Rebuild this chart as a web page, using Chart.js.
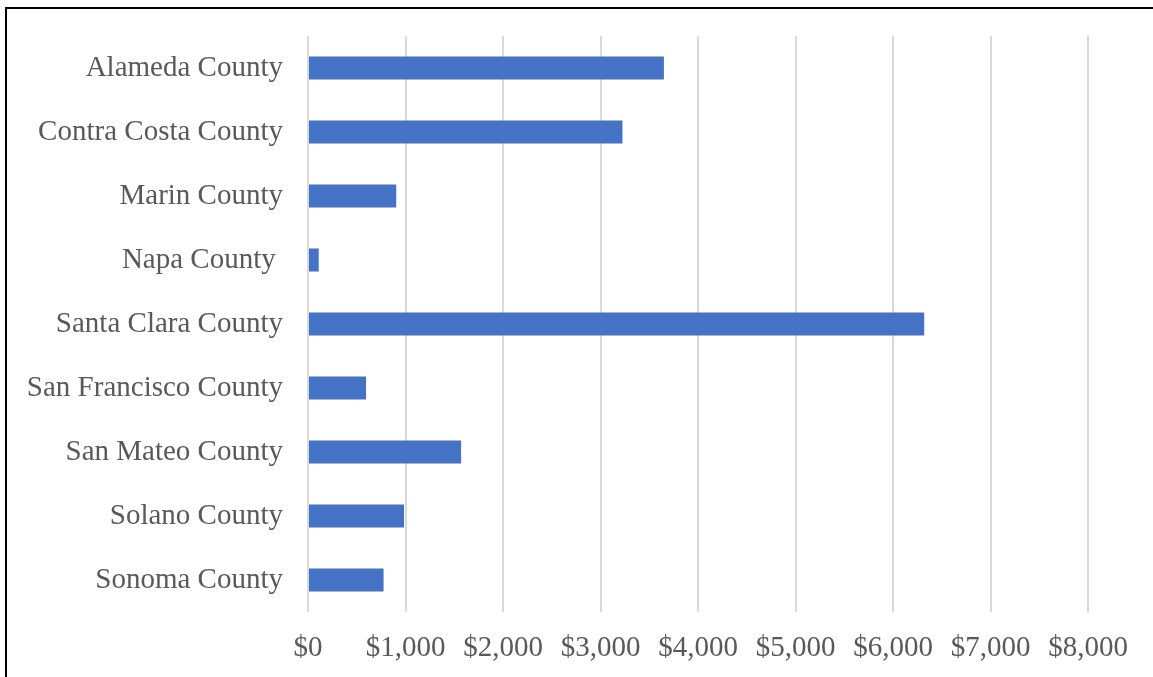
<!DOCTYPE html>
<html>
<head>
<meta charset="utf-8">
<title>Bay Area counties</title>
<script src="https://cdn.jsdelivr.net/npm/chart.js@4/dist/chart.umd.min.js"></script>
<style>
  html, body { margin: 0; padding: 0; background: #fff; overflow: hidden; }
  #wrap { position: relative; width: 1153px; height: 677px; }
  #frame {
    position: absolute; left: 5px; top: 7px; width: 1300px; height: 800px;
    border-top: 2px solid #000; border-left: 2px solid #000; pointer-events: none;
  }
</style>
</head>
<body>
<div id="wrap">
  <canvas id="countyChart"></canvas>
  <div id="frame"></div>
</div>
<script>
// Counties and dollar amounts per county
const counties = [
    'Alameda County',
    'Contra Costa County',
    'Marin County',
    'Napa County ',
    'Santa Clara County',
    'San Francisco County',
    'San Mateo County',
    'Solano County',
    'Sonoma County'
];
const amounts = [3650, 3225, 905, 110, 6320, 595, 1570, 985, 775];

// Axis range
const axisMin = 0;
const axisMax = 8000;
const axisStep = 1000;

const labelFont = { family: '"Liberation Serif", "Times New Roman", serif', size: 29 };
const textColor = '#595959';

const chartCanvas = document.getElementById('countyChart');

new Chart(chartCanvas, {
    type: 'bar',
    data: {
        labels: counties,
        datasets: [{
            label: 'Amount',
            data: amounts,
            backgroundColor: '#4472C4',
            borderWidth: 0,
            barPercentage: 0.36,
            categoryPercentage: 1
        }]
    },
    options: {
        indexAxis: 'y',
        responsive: true,
        maintainAspectRatio: false,
        animation: false,
        layout: {
            padding: { top: 36, right: 65, left: 0, bottom: 0 }
        },
        plugins: {
            legend: { display: false },
            tooltip: { enabled: false }
        },
        scales: {
            x: {
                min: axisMin,
                max: axisMax,
                border: { display: false },
                grid: {
                    color: '#d9d9d9',
                    lineWidth: 2,
                    drawTicks: false
                },
                ticks: {
                    stepSize: axisStep,
                    padding: 19,
                    color: textColor,
                    font: labelFont,
                    maxRotation: 0,
                    callback: value => '$' + Number(value).toLocaleString('en-US')
                },
                afterFit: scale => { scale.height = 65; }
            },
            y: {
                border: { display: false },
                grid: { display: false, drawTicks: false },
                ticks: {
                    padding: 25,
                    color: textColor,
                    font: labelFont
                },
                afterFit: scale => {
                    // keep the plot area fixed; labels sit inside the category bands
                    scale.width = 308;
                    scale.paddingTop = 0;
                    scale.paddingBottom = 0;
                }
            }
        }
    }
});
</script>
</body>
</html>
